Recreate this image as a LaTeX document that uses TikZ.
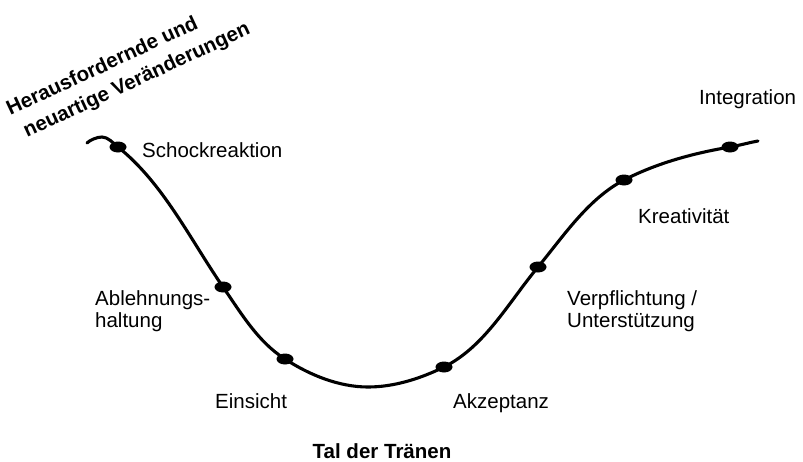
\documentclass[tikz,border=0pt]{standalone}
\usepackage{fontspec}
\setmainfont{Liberation Sans}
\usetikzlibrary{shapes.geometric}
\begin{document}
\begin{tikzpicture}[x=1pt,y=-1pt,
  lbl/.style={inner sep=0pt,font=\fontsize{20.5}{22}\selectfont,align=left},
  blbl/.style={inner sep=0pt,font=\fontsize{20.5}{22}\selectfont\bfseries},
  dot/.style={ellipse,fill=black,inner sep=0pt,minimum width=17pt,minimum height=11pt},
  curve/.style={line width=3.1pt,line cap=round}]
\useasboundingbox (0,0) rectangle (803,461);
% curve support points
\coordinate (s) at (87,143);
\coordinate (h) at (102,137);
\coordinate (p1) at (118,147);
\coordinate (p2) at (223,287);
\coordinate (p3) at (285,359);
\coordinate (b) at (368,387);
\coordinate (p4) at (444,367);
\coordinate (p5) at (538,267);
\coordinate (p6) at (624,180);
\coordinate (p7) at (730,147);
\coordinate (e) at (758,141);
\draw[curve] (s) .. controls (90,140) and (97,137) .. (h)
  .. controls (108,137) and (113,143) .. (p1)
  .. controls (163,183) and (190,239) .. (p2)
  .. controls (241,313) and (258,342) .. (p3)
  .. controls (309.5,375) and (339,387) .. (b)
  .. controls (394,387) and (420.5,378.6) .. (p4)
  .. controls (485,346.5) and (508.6,302.3) .. (p5)
  .. controls (564,235.5) and (588,199) .. (p6)
  .. controls (657,163) and (693.5,153.2) .. (p7)
  .. controls (739.5,145.4) and (749,142.6) .. (e);
\foreach \i in {1,...,7} {\node[dot] (d\i) at (p\i) {};}
% labels
\node[lbl,anchor=base west] (l1) at (142,157) {Schockreaktion};
\node[lbl,anchor=base west] (l2) at (95,327) {Ablehnungs-\\haltung};
\node[lbl,anchor=base west] (l3) at (215,408) {Einsicht};
\node[lbl,anchor=base west] (l4) at (453,408) {Akzeptanz};
\node[lbl,anchor=base west] (l5) at (567,327) {Verpflichtung /\\Unterstützung};
\node[lbl,anchor=base west] (l6) at (638,223) {Kreativität};
\node[lbl,anchor=base west] (l7) at (699,104) {Integration};
\node[blbl,anchor=base] (tal) at (382,458) {Tal der Tränen};
\node[blbl,align=left,font=\fontsize{20.5}{27}\selectfont\bfseries,anchor=base west,rotate=25] (t) at (21.6,140.5)
  {Herausfordernde und\\\hspace*{6pt}neuartige Veränderungen};
\end{tikzpicture}
\end{document}
